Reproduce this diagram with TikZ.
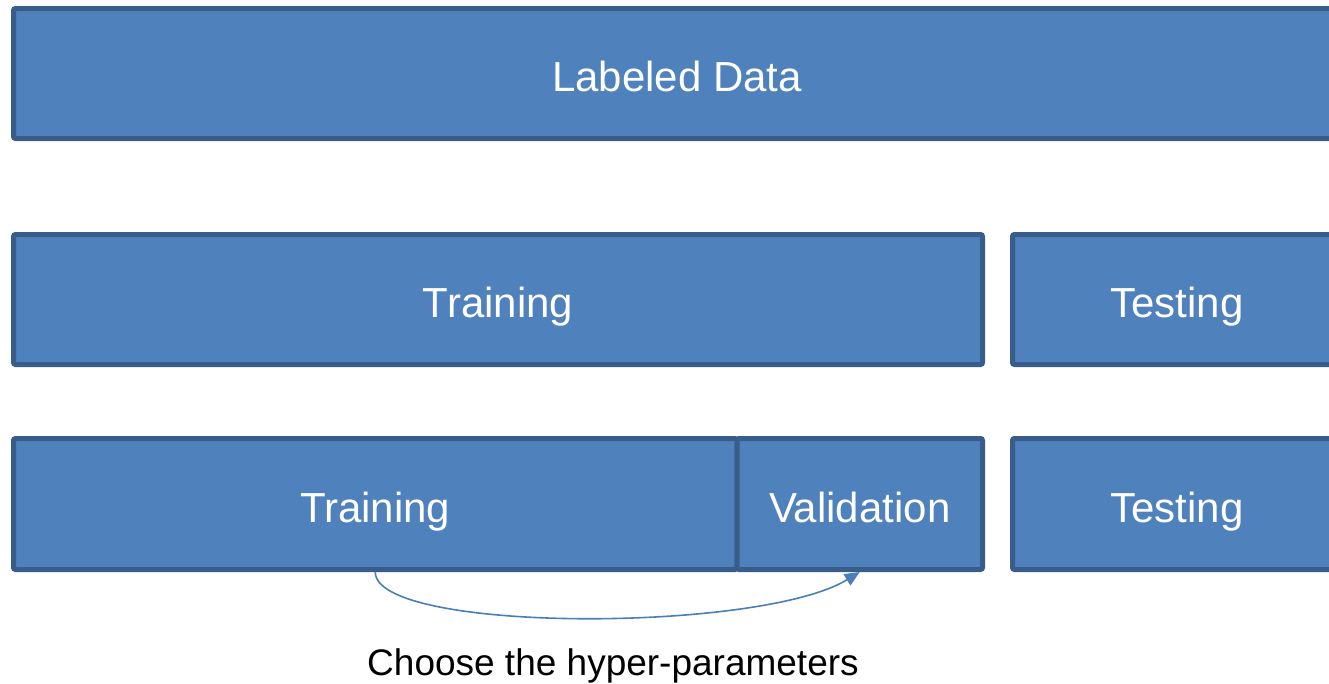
\documentclass[tikz,border=0pt]{standalone}
\usepackage{fontspec}
\setmainfont{Liberation Sans}
\usetikzlibrary{positioning,arrows.meta}

\definecolor{boxfill}{HTML}{4F81BD}
\definecolor{boxline}{HTML}{385D8A}
\definecolor{curvecol}{HTML}{4A7EBB}

\tikzset{
  datablock/.style={draw=boxline, fill=boxfill, line width=5pt, rounded corners=2pt,
    text=white, inner sep=0pt, text height=40pt, text depth=4pt,
    font=\fontsize{42}{50}\selectfont},
  hyperarrow/.style={draw=curvecol, line width=1.6pt,
    -{Triangle[length=15pt,width=13pt]}},
}

\begin{document}
\begin{tikzpicture}[x=1pt,y=-1pt]
            \useasboundingbox (0,0) rectangle (1329,683);
            \clip (0,0) rectangle (1329,683);
            % whole data set
            \node [datablock, minimum width=1327, minimum height=130] (labeled) at (677,73.5) {Labeled Data};
            % first split
            \node [datablock, minimum width=969, minimum height=130] (train2) at (498,299.5) {Training};
            \node [datablock, minimum width=329, minimum height=130] (test2) at (1177,299.5) {Testing};
            % second split
            \node [datablock, minimum width=723.5, minimum height=131] (train3) at (375.25,504) {Training};
            \node [datablock, minimum width=245.5, minimum height=131] (valid3) at (859.75,504) {Validation};
            \node [datablock, minimum width=329, minimum height=131] (test3) at (1177,504) {Testing};
            \draw [hyperarrow] (train3.south) .. controls +(0,61) and +(-100,61) .. (valid3.south);
            \node [font=\fontsize{37}{44}\selectfont, inner sep=0pt, anchor=base] (hyper) at (613,675) {Choose the hyper-parameters};
\end{tikzpicture}
\end{document}
